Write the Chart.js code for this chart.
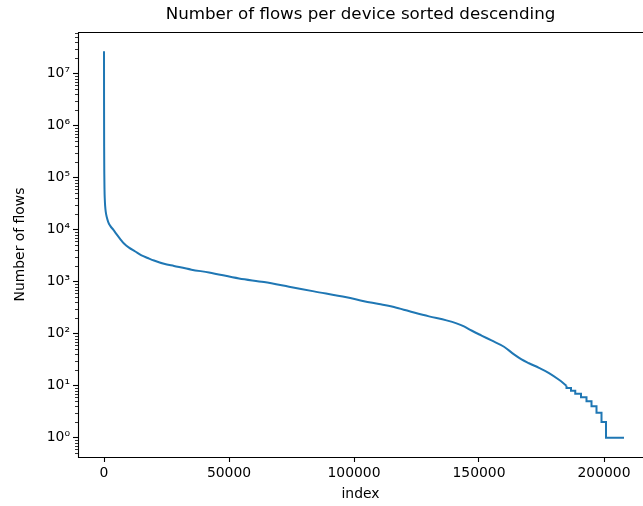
<!DOCTYPE html>
<html>
<head>
<meta charset="utf-8">
<script src="https://cdn.jsdelivr.net/npm/chart.js@4"></script>
<style>
  body { margin: 0; background: #fff; }
  #wrap { width: 643px; height: 506px; }
</style>
</head>
<body>
<div id="wrap"><canvas id="flows" width="643" height="506"></canvas></div>
<script>
// smooth part of the sorted curve (index, number of flows)
const curveIndex = [0, 20, 60, 120, 200, 300, 450, 700, 1100, 1700, 2500, 3700, 5000, 6500, 8000, 10000, 12500,
  15000, 17500, 20000, 24000, 28000, 35000, 42000, 54000, 64000, 74000, 84000, 97000, 104000, 110000,
  117000, 124000, 130000, 137000, 141000, 144000, 147000, 151000, 155000, 160000, 164000, 167000, 170000,
  174000, 178000, 182000, 185000];
const curveFlows = [2.7e7, 3e6, 4e5, 1.2e5, 6e4, 4e4, 2.9e4, 2.2e4, 1.75e4, 1.4e4, 1.18e4, 1.0e4, 8.2e3, 6.6e3, 5.4e3, 4.5e3, 3.8e3,
  3.2e3, 2.85e3, 2.55e3, 2.2e3, 2.0e3, 1.7e3, 1.5e3, 1.15e3, 980, 800, 650, 500, 420, 370,
  315, 255, 215, 180, 158, 138, 115, 92, 74, 56, 40, 32, 27,
  22, 17.5, 13, 10];
// low counts are integers -> visible steps
const stepIndex = [185000, 186800, 188500, 190800, 193000, 195000, 197000, 199000, 200800, 205300, 208000];
const stepFlows = [10, 9, 8, 7, 6, 5, 4, 3, 2, 1, 1];

const xTicks = [0, 50000, 100000, 150000, 200000];
const yTicks = [1, 10, 100, 1e3, 1e4, 1e5, 1e6, 1e7];
const sup = ['⁰','¹','²','³','⁴','⁵','⁶','⁷','⁸','⁹'];

const blue = '#1f77b4';
Chart.defaults.font.family = "'DejaVu Sans', sans-serif";
Chart.defaults.color = '#000';

// axes frame + log minor ticks, matplotlib style
const frame = {
  id: 'frame',
  afterDraw(chart) {
    const { ctx, chartArea: a } = chart;
    const y = chart.scales.y;
    ctx.save();
    ctx.strokeStyle = '#000';
    ctx.lineWidth = 0.8;
    for (let n = -1; n <= 7; n++) {
      for (let k = 2; k <= 9; k++) {
        const v = k * Math.pow(10, n);
        if (v < y.min || v > y.max) continue;
        const py = Math.round(y.getPixelForValue(v)) + 0.5;
        ctx.beginPath(); ctx.moveTo(a.left - 3, py); ctx.lineTo(a.left, py); ctx.stroke();
      }
    }
    ctx.lineWidth = 1.1;
    ctx.beginPath();
    ctx.moveTo(a.left + 0.5, a.top + 0.5);
    ctx.lineTo(a.right + 5, a.top + 0.5);
    ctx.moveTo(a.left + 0.5, a.top);
    ctx.lineTo(a.left + 0.5, a.bottom + 0.5);
    ctx.lineTo(a.right + 5, a.bottom + 0.5);
    ctx.stroke();
    ctx.restore();
  }
};

new Chart(document.getElementById('flows'), {
  type: 'line',
  data: {
    datasets: [
      { data: curveIndex.map((x, i) => ({ x, y: curveFlows[i] })), borderColor: blue, borderWidth: 2,
        pointRadius: 0, cubicInterpolationMode: 'monotone' },
      { data: stepIndex.map((x, i) => ({ x, y: stepFlows[i] })), borderColor: blue, borderWidth: 2,
        pointRadius: 0, stepped: 'after' }
    ]
  },
  options: {
    responsive: false,
    animation: false,
    devicePixelRatio: 1,
    layout: { padding: 0 },
    plugins: {
      legend: { display: false },
      tooltip: { enabled: false },
      title: {
        display: true, fullSize: false,
        text: 'Number of flows per device sorted descending',
        font: { size: 16.7, weight: 'normal' }, color: '#000',
        padding: { top: 5, bottom: 7 }
      }
    },
    scales: {
      x: {
        type: 'linear', min: -10400, max: 215600,
        afterBuildTicks: s => { s.ticks = xTicks.map(v => ({ value: v })); },
        afterFit: s => { s.height = 49; },
        ticks: { font: { size: 13.9 }, color: '#000', padding: 3, maxRotation: 0, callback: v => String(v) },
        grid: { drawOnChartArea: false, tickLength: 5, tickColor: '#000', tickWidth: 1.1 },
        border: { display: false },
        title: { display: true, text: 'index', font: { size: 13.9 }, color: '#000', padding: { top: 0, bottom: 3 } }
      },
      y: {
        type: 'logarithmic', min: 0.425, max: 6.3e7,
        afterBuildTicks: s => { s.ticks = yTicks.map(v => ({ value: v })); },
        afterFit: s => { s.width = 78; },
        ticks: {
          font: { size: 13.9 }, color: '#000', padding: 3,
          callback: v => '10' + sup[Math.round(Math.log10(v))]
        },
        grid: { drawOnChartArea: false, tickLength: 5, tickColor: '#000', tickWidth: 1.1 },
        border: { display: false },
        title: { display: true, text: 'Number of flows', font: { size: 13.9 }, color: '#000', padding: { top: 12, bottom: 0 } }
      }
    }
  },
  plugins: [frame]
});
</script>
</body>
</html>
